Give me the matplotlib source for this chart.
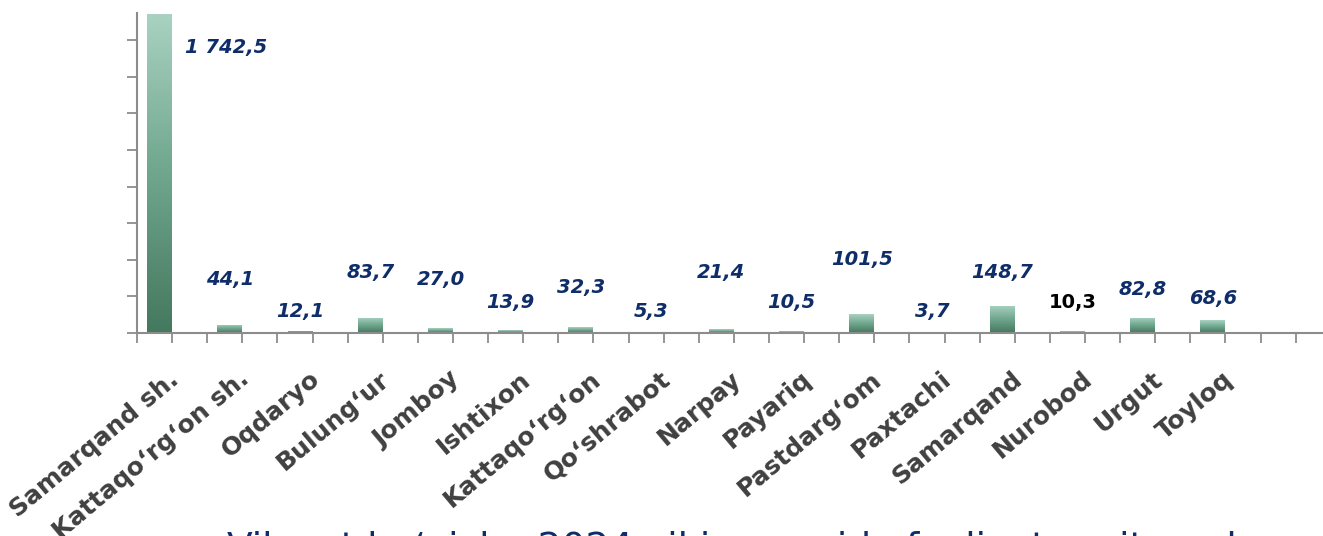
import matplotlib
matplotlib.use("Agg")
import matplotlib.pyplot as plt
import matplotlib.transforms as mtransforms
import numpy as np
from matplotlib.colors import LinearSegmentedColormap

# ---------------- data ----------------
categories = ["Samarqand sh.", "Kattaqo‘rg‘on sh.", "Oqdaryo", "Bulung‘ur", "Jomboy",
              "Ishtixon", "Kattaqo‘rg‘on", "Qo‘shrabot", "Narpay", "Payariq",
              "Pastdarg‘om", "Paxtachi", "Samarqand", "Nurobod", "Urgut", "Toyloq"]
values = [1742.5, 44.1, 12.1, 83.7, 27.0, 13.9, 32.3, 5.3, 21.4, 10.5,
          101.5, 3.7, 148.7, 10.3, 82.8, 68.6]
# label heights (data units) as placed in the original chart
label_y = [1557, 290, 115, 333, 290, 169, 246, 115, 333, 169,
           399, 115, 328, 169, 235, 191]
footer_text = "Viloyat bo‘yicha 2024 yil iyun oyida faoliyat yuritgan korxonalar soni"

# ---------------- style ----------------
navy = "#0f2d69"
axis_gray = "#8c8c8c"
label_gray = "#404040"
cmap = LinearSegmentedColormap.from_list("grn", ["#44785f", "#6fa68d", "#a9d2c1"])

W, H = 1323, 536
fig = plt.figure(figsize=(W / 100, H / 100), dpi=100)
ax = fig.add_axes([137 / W, (H - 333) / H, (W - 137) / W, (333 - 13) / H])

n = len(values)
x = np.arange(n)
bw = 0.356

bars = ax.bar(x - bw, values, width=bw, align="edge", color="none", edgecolor="none", zorder=2)
grad = np.linspace(0, 1, 256).reshape(-1, 1)
for b in bars:
    x0, y0 = b.get_x(), b.get_y()
    w, h = b.get_width(), b.get_height()
    im = ax.imshow(grad, cmap=cmap, origin="lower", aspect="auto",
                   extent=[x0, x0 + w, y0, y0 + h], zorder=2)
    im.set_clip_path(b)

ax.set_xlim(-0.5, 16.39)
ax.set_ylim(0, 1748)

# value labels
for i, (v, ly) in enumerate(zip(values, label_y)):
    txt = f"{v:,.1f}".replace(",", " ").replace(".", ",")
    lx = i - bw / 2 if i > 0 else 0.77
    if categories[i] == "Nurobod":
        ax.text(lx, ly, txt, ha="center", va="center", fontsize=14,
                fontweight="bold", color="black", zorder=3)
    else:
        ax.text(lx, ly, txt, ha="center", va="center", fontsize=14,
                fontweight="bold", fontstyle="italic", color=navy, zorder=3)

# spines
for s in ["top", "right"]:
    ax.spines[s].set_visible(False)
for s in ["left", "bottom"]:
    ax.spines[s].set_color(axis_gray)
    ax.spines[s].set_linewidth(1.5)

ax.set_yticks(np.arange(0, 1601, 200))
ax.tick_params(axis="y", direction="out", length=7, width=1.3, color=axis_gray, labelleft=False)

ax.set_xticks(x)
ax.set_xticks(np.arange(-0.5, 16.01, 0.5), minor=True)
ax.tick_params(axis="x", which="both", direction="out", length=7, width=1.3, color=axis_gray)
ax.set_xticklabels(categories, rotation=40, ha="right", rotation_mode="anchor",
                   fontsize=18, fontweight="bold", color=label_gray, va="center")
ax.tick_params(axis="x", which="major", pad=24)
offset = mtransforms.ScaledTranslation(4 / 100, 0, fig.dpi_scale_trans)
for lab in ax.get_xticklabels():
    lab.set_transform(lab.get_transform() + offset)

fig.text(227 / W, (H - 559) / H, footer_text, fontsize=27, color=navy,
         ha="left", va="baseline")

fig.savefig("out.png", dpi=100)
